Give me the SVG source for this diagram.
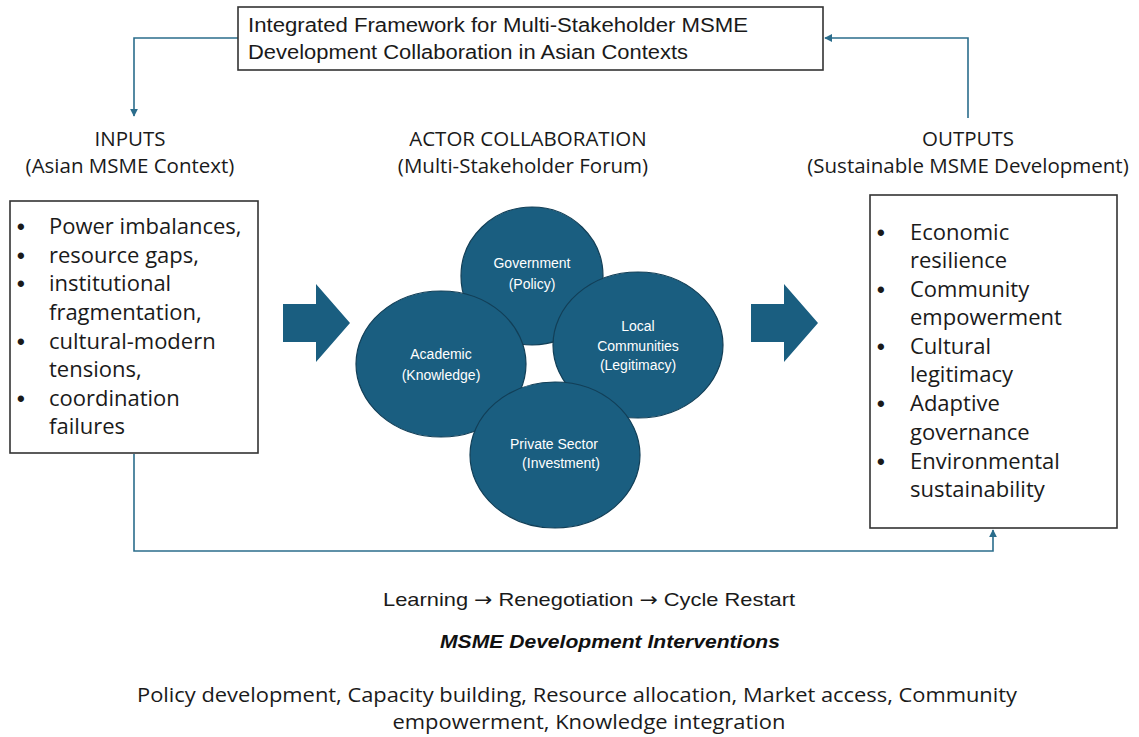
<svg xmlns="http://www.w3.org/2000/svg" width="1139" height="737" viewBox="0 0 1139 737">
  <style>
    .bg { fill: #ffffff; }
    .box { fill: #ffffff; stroke: #333333; stroke-width: 1.6; }
    .title { font-family: "Liberation Sans", Arial, sans-serif; font-size: 20px; fill: #1a1a1a; }
    .head { font-family: "Open Sans", "Liberation Sans", sans-serif; font-size: 20.5px; fill: #1a1a1a; text-anchor: middle; }
    .item { font-family: "Open Sans", "Liberation Sans", sans-serif; font-size: 22px; fill: #1a1a1a; }
    .dot { font-family: "Liberation Sans", Arial, sans-serif; font-size: 22px; font-weight: bold; fill: #1a1a1a; }
    .actor { fill: #1a5e80; stroke: #123f57; stroke-width: 1.2; }
    .actor-label { font-family: "Liberation Sans", Arial, sans-serif; font-size: 14px; fill: #ffffff; text-anchor: middle; }
    .flow { fill: #1a5e80; }
    .link { fill: none; stroke: #2b6d8c; stroke-width: 1.6; }
    .note { font-family: "Liberation Sans", Arial, sans-serif; font-size: 19px; fill: #1a1a1a; text-anchor: middle; }
    .arr { font-family: "DejaVu Sans", sans-serif; }
    .note-bold { font-family: "Liberation Sans", Arial, sans-serif; font-size: 19px; font-weight: bold; font-style: italic; fill: #111111; text-anchor: middle; }
    .foot { font-family: "Open Sans", "Liberation Sans", sans-serif; font-size: 20px; fill: #1a1a1a; text-anchor: middle; }
  </style>
  <defs>
    <marker id="tip" viewBox="0 0 10 10" refX="9" refY="5" markerWidth="5" markerHeight="5" orient="auto">
      <path d="M0,0 L10,5 L0,10 z" fill="#2b6d8c"/>
    </marker>
  </defs>

  <rect class="bg" x="0" y="0" width="1139" height="737"/>

  <!-- feedback connectors -->
  <g id="connectors">
    <polyline class="link" points="238,38 134,38 134,116" marker-end="url(#tip)"/>
    <polyline class="link" points="968,118 968,38 825,38" marker-end="url(#tip)"/>
    <polyline class="link" points="134,454 134,551 993,551 993,530" marker-end="url(#tip)"/>
  </g>

  <!-- framework title -->
  <g id="title">
    <rect class="box" x="238" y="7" width="585" height="63"/>
    <text class="title" x="248" y="32" textLength="500" lengthAdjust="spacingAndGlyphs">Integrated Framework for Multi-Stakeholder MSME</text>
    <text class="title" x="248" y="59" textLength="440" lengthAdjust="spacingAndGlyphs">Development Collaboration in Asian Contexts</text>
  </g>

  <!-- column headings -->
  <g id="head-inputs">
    <text class="head" x="130" y="146">INPUTS</text>
    <text class="head" x="130" y="173">(Asian MSME Context)</text>
  </g>
  <g id="head-actors">
    <text class="head" x="528" y="146">ACTOR COLLABORATION</text>
    <text class="head" x="523" y="173">(Multi-Stakeholder Forum)</text>
  </g>
  <g id="head-outputs">
    <text class="head" x="968" y="146">OUTPUTS</text>
    <text class="head" x="968" y="173">(Sustainable MSME Development)</text>
  </g>

  <!-- inputs list -->
  <g id="inputs">
    <rect class="box" x="10" y="201" width="248" height="252"/>
    <g class="dot">
      <text x="17" y="234">•</text>
      <text x="17" y="263">•</text>
      <text x="17" y="291">•</text>
      <text x="17" y="349">•</text>
      <text x="17" y="406">•</text>
    </g>
    <g class="item">
      <text x="49" y="234">Power imbalances,</text>
      <text x="49" y="263">resource gaps,</text>
      <text x="49" y="291">institutional</text>
      <text x="49" y="320">fragmentation,</text>
      <text x="49" y="349">cultural-modern</text>
      <text x="49" y="377">tensions,</text>
      <text x="49" y="406">coordination</text>
      <text x="49" y="434">failures</text>
    </g>
  </g>

  <!-- flow arrows -->
  <g id="arrow-in">
    <polygon class="flow" points="283,304 316,304 316,284 350,323 316,362 316,342 283,342"/>
  </g>
  <g id="arrow-out">
    <polygon class="flow" points="751,304 784,304 784,284 818,323 784,362 784,342 751,342"/>
  </g>

  <!-- actors -->
  <g id="actor-government">
    <ellipse class="actor" cx="532" cy="276" rx="71" ry="69"/>
    <text class="actor-label" x="532" y="268">Government</text>
    <text class="actor-label" x="532" y="289">(Policy)</text>
  </g>
  <g id="actor-academic">
    <ellipse class="actor" cx="441" cy="364" rx="85" ry="73"/>
    <text class="actor-label" x="441" y="359">Academic</text>
    <text class="actor-label" x="441" y="380">(Knowledge)</text>
  </g>
  <g id="actor-communities">
    <ellipse class="actor" cx="638" cy="345" rx="85" ry="73"/>
    <text class="actor-label" x="638" y="331">Local</text>
    <text class="actor-label" x="638" y="351">Communities</text>
    <text class="actor-label" x="638" y="370">(Legitimacy)</text>
  </g>
  <g id="actor-private">
    <ellipse class="actor" cx="555" cy="455" rx="85" ry="73"/>
    <text class="actor-label" x="554" y="449">Private Sector</text>
    <text class="actor-label" x="561" y="468">(Investment)</text>
  </g>

  <!-- outputs list -->
  <g id="outputs">
    <rect class="box" x="870" y="195" width="247" height="333"/>
    <g class="dot">
      <text x="877" y="240">•</text>
      <text x="877" y="297">•</text>
      <text x="877" y="354">•</text>
      <text x="877" y="411">•</text>
      <text x="877" y="469">•</text>
    </g>
    <g class="item">
      <text x="910" y="240">Economic</text>
      <text x="910" y="268">resilience</text>
      <text x="910" y="297">Community</text>
      <text x="910" y="325">empowerment</text>
      <text x="910" y="354">Cultural</text>
      <text x="910" y="382">legitimacy</text>
      <text x="910" y="411">Adaptive</text>
      <text x="910" y="440">governance</text>
      <text x="910" y="469">Environmental</text>
      <text x="910" y="497">sustainability</text>
    </g>
  </g>

  <!-- cycle and interventions notes -->
  <g id="cycle-note">
    <text class="note" x="589" y="606" textLength="412" lengthAdjust="spacingAndGlyphs">Learning <tspan class="arr">→</tspan> Renegotiation <tspan class="arr">→</tspan> Cycle Restart</text>
  </g>
  <g id="interventions">
    <text class="note-bold" x="610" y="648" textLength="340" lengthAdjust="spacingAndGlyphs">MSME Development Interventions</text>
    <text class="foot" x="577" y="702" textLength="880" lengthAdjust="spacingAndGlyphs">Policy development, Capacity building, Resource allocation, Market access, Community</text>
    <text class="foot" x="589" y="729" textLength="393" lengthAdjust="spacingAndGlyphs">empowerment, Knowledge integration</text>
  </g>
</svg>
